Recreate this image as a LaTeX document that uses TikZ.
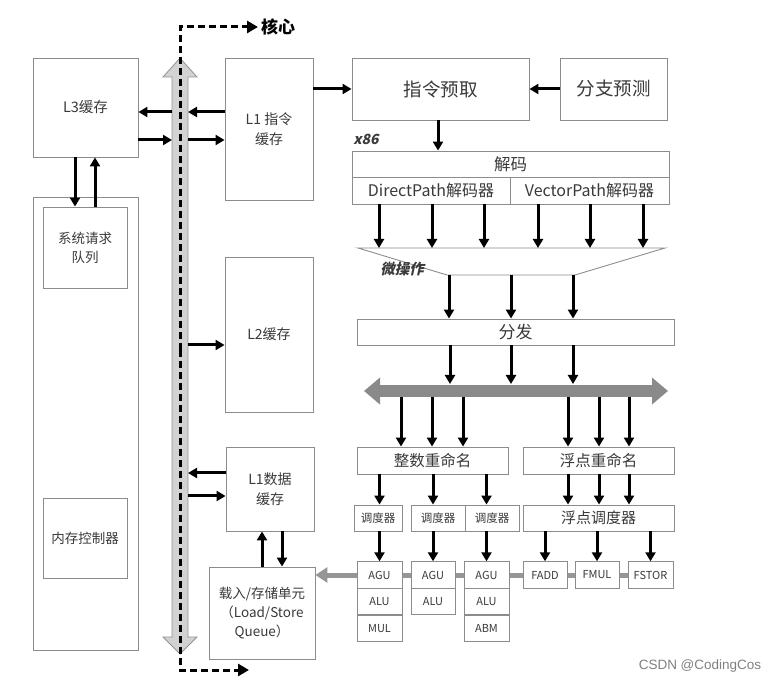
\documentclass[tikz,border=0pt]{standalone}
\usepackage{fontspec}
\setmainfont{Noto Sans CJK SC}
\newfontfamily\slfont[FakeSlant=0.22]{Noto Sans CJK SC}
\newfontfamily\wmfont{Liberation Sans}
\usepackage{xcolor}
\definecolor{BoxGray}{HTML}{8c8c8c}
\definecolor{TextGray}{HTML}{3a3a3a}
\definecolor{BusLight}{HTML}{d2d2d2}
\definecolor{BusDark}{HTML}{8a8a8a}
\usepackage{tikz}
\usetikzlibrary{arrows.meta, backgrounds}

\begin{document}
\begin{tikzpicture}[x=1pt, y=-1pt,
  box/.style={draw=BoxGray, line width=0.9pt, fill=white, text=TextGray, align=center, inner sep=0pt},
  fs/.style={font=\fontsize{#1}{\dimexpr #1pt*14/10\relax}\selectfont},
  arr/.style={line width=3pt, -{Triangle[length=9pt,width=10pt]}},
  dsh/.style={line width=3pt, dash pattern=on 7pt off 4pt, -{Triangle[length=11pt,width=12pt]}},
  unit/.style={box, fs=11, minimum width=45pt, minimum height=26.5pt}]
  \useasboundingbox (0,0) rectangle (777,684);
  % left side
  \node[box, fs=14.5, minimum width=105pt, minimum height=99pt] (l3) at (85.5,107.5) {L3缓存};
  \node[box, minimum width=105pt, minimum height=453pt] (mem) at (85.5,423.5) {};
  \node[box, fs=13.5, minimum width=84pt, minimum height=81pt] (sysq) at (85,247.5) {系统请求\\队列};
  \node[box, fs=13.5, minimum width=84pt, minimum height=80pt] (memc) at (85,538) {内存控制器};
  % caches
  \node[box, fs=14, minimum width=88pt, minimum height=142pt] (l1i) at (269,129) {L1 指令\\缓存};
  \node[box, fs=14, minimum width=88pt, minimum height=155pt] (l2) at (269,334.5) {L2缓存};
  \node[box, fs=14, minimum width=88pt, minimum height=84pt] (l1d) at (270,489) {L1数据\\缓存};
  \node[box, fs=13.5, minimum width=106pt, minimum height=92pt] (lsq) at (262,613) {载入/存储单元\\（Load/Store\\Queue）};
  % front end
  \node[box, fs=18.5, minimum width=177pt, minimum height=62pt] (fetch) at (440.5,89) {指令预取};
  \node[box, fs=18.5, minimum width=107pt, minimum height=62pt] (bp) at (613.5,89) {分支预测};
  \node[box, fs=16.5, minimum width=317pt, minimum height=26pt] (dec) at (510.5,164) {解码};
  \node[box, fs=16, minimum width=158pt, minimum height=27pt] (dp) at (431,190.5) {DirectPath解码器};
  \node[box, fs=16, minimum width=159pt, minimum height=27pt] (vp) at (589.5,190.5) {VectorPath解码器};
  \node[text=TextGray, font=\slfont\bfseries\fontsize{14}{16}\selectfont] (x86) at (366,139) {x86};
  \coordinate (ut1) at (358,248);
  \coordinate (ut2) at (665,248);
  \coordinate (ub2) at (575,275);
  \coordinate (ub1) at (447,275);
  \draw[draw=BoxGray, line width=0.9pt] (ut1) -- (ut2) -- (ub2) -- (ub1) -- cycle;
  \node[text=TextGray, font=\slfont\bfseries\fontsize{14.5}{16}\selectfont] (uop) at (402,269) {微操作};
  \node[box, fs=17, minimum width=317pt, minimum height=26pt] (disp) at (515.5,332) {分发};
  \node[box, fs=15.5, minimum width=151pt, minimum height=27pt] (iren) at (432.5,460.5) {整数重命名};
  \node[box, fs=15.5, minimum width=151pt, minimum height=27pt] (fren) at (598.5,460.5) {浮点重命名};
  % schedulers and units
  \node[box, fs=11.5, minimum width=48pt, minimum height=26pt] (sch1) at (378,518) {调度器};
  \node[box, fs=11.5, minimum width=54pt, minimum height=26pt] (sch2) at (438,518) {调度器};
  \node[box, fs=11.5, minimum width=54pt, minimum height=26pt] (sch3) at (492,518) {调度器};
  \node[box, fs=15, minimum width=151pt, minimum height=26pt] (fsch) at (598.5,518) {浮点调度器};
  \node[unit] (agu1) at (379.5,575) {AGU};
  \node[unit] (alu1) at (379.5,601.5) {ALU};
  \node[unit] (mul1) at (379.5,628.5) {MUL};
  \node[unit, minimum width=44pt] (agu2) at (433,575) {AGU};
  \node[unit, minimum width=44pt] (alu2) at (433,601.5) {ALU};
  \node[unit] (agu3) at (486.5,575) {AGU};
  \node[unit] (alu3) at (486.5,601.5) {ALU};
  \node[unit] (abm3) at (486.5,628.5) {ABM};
  \node[unit, minimum width=44pt] (fadd) at (545,575) {FADD};
  \node[unit, minimum width=44pt] (fmul) at (597,575) {FMUL};
  \node[unit] (fstor) at (650.5,575) {FSTOR};
  \begin{scope}[on background layer]
    \draw[BusDark!90, line width=5pt, -{Triangle[length=12pt,width=15pt]}] (fstor.center) -- (lsq.east |- fstor.center);
  \end{scope}
  % buses
  \draw[fill=BusLight, draw=gray!85, line width=0.8pt] (180,58) -- (197,77) -- (188,77) -- (188,637) -- (197,637) -- (180,654) -- (163,637) -- (172,637) -- (172,77) -- (163,77) -- cycle;
  \coordinate (bl) at (172,0);
  \coordinate (br) at (188,0);
  \coordinate (dm) at (180,350);
  \coordinate (dend) at (249,670);
  \node[anchor=west, text=black, inner sep=3pt, font=\bfseries\fontsize{17}{20}\selectfont] (core) at (258,27) {核心};
  \draw[dsh] (dm) |- (core.west);
  \draw[dsh] (dm) |- (dend);
  \coordinate (hbl) at (364,391);
  \coordinate (hbr) at (668,391);
  \draw[BusDark, line width=12pt, {Triangle[length=16pt,width=26pt]}-{Triangle[length=16pt,width=26pt]}] (hbl) -- (hbr);
  \coordinate (ht) at (516,384);
  \coordinate (hb) at (516,397);
  % connectors
  \draw[arr] (bl |- 0,112) -- (l3.east |- 0,112);
  \draw[arr] (l3.east |- 0,140) -- (bl |- 0,140);
  \draw[arr] (l1i.west |- 0,112) -- (br |- 0,112);
  \draw[arr] (br |- 0,140) -- (l1i.west |- 0,140);
  \draw[arr] (br |- 0,345) -- (l2.west |- 0,345);
  \draw[arr] (l1d.west |- 0,473) -- (br |- 0,473);
  \draw[arr] (br |- 0,496) -- (l1d.west |- 0,496);
  \draw[arr] (l3.south -| 75,0) -- (sysq.north -| 75,0);
  \draw[arr] (sysq.north -| 95,0) -- (l3.south -| 95,0);
  \draw[arr] (lsq.north -| 262,0) -- (l1d.south -| 262,0);
  \draw[arr] (l1d.south -| 282,0) -- (lsq.north -| 282,0);
  \draw[arr] (l1i.east |- fetch.west) -- (fetch.west);
  \draw[arr] (bp.west) -- (fetch.east);
  \draw[arr] (fetch.south -| 438,0) -- (dec.north -| 438,0);
  \foreach \x in {379,432,484,538,590,643}
    \draw[arr] (dp.south -| \x,0) -- (ut1 -| \x,0);
  \foreach \x in {449,511,573}
    \draw[arr] (ub1 -| \x,0) -- (disp.north -| \x,0);
  \foreach \x in {450,511,573}
    \draw[arr] (disp.south -| \x,0) -- (ht -| \x,0);
  \foreach \x in {401,432,463}
    \draw[arr] (hb -| \x,0) -- (iren.north -| \x,0);
  \foreach \x in {568,599,629}{
    \draw[arr] (hb -| \x,0) -- (fren.north -| \x,0);
    \draw[arr] (fren.south -| \x,0) -- (fsch.north -| \x,0);}
  \draw[arr] (iren.south -| agu1) -- (sch1.north -| agu1);
  \draw[arr] (iren.south -| agu2) -- (sch2.north -| agu2);
  \draw[arr] (iren.south -| agu3) -- (sch3.north -| agu3);
  \draw[arr] (sch1.south -| agu1) -- (agu1.north);
  \draw[arr] (sch2.south -| agu2) -- (agu2.north);
  \draw[arr] (sch3.south -| agu3) -- (agu3.north);
  \draw[arr] (fsch.south -| fadd) -- (fadd.north);
  \draw[arr] (fsch.south -| fmul) -- (fmul.north);
  \draw[arr] (fsch.south -| fstor) -- (fstor.north);
  \node[text=gray, font=\wmfont\fontsize{13.5}{16}\selectfont] (wm) at (700,666) {CSDN @CodingCos};
\end{tikzpicture}
\end{document}
